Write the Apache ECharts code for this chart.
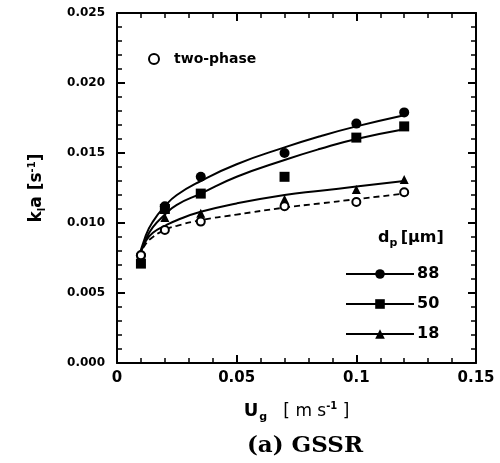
<!DOCTYPE html>
<html><head><meta charset="utf-8">
<script src="https://cdn.jsdelivr.net/npm/echarts@6/dist/echarts.min.js"></script>
<style>html,body{margin:0;padding:0;background:#fff}#c{width:500px;height:463px}</style>
</head><body><div id="c"></div>
<script>
// measured points
const U = [0.01, 0.02, 0.035, 0.07, 0.1, 0.12];
const k88 = [0.0077, 0.0112, 0.0133, 0.0150, 0.0171, 0.0179];
const k50 = [0.0071, 0.0110, 0.0121, 0.0133, 0.0161, 0.0169];
const k18 = [0.0073, 0.0104, 0.0107, 0.0117, 0.0124, 0.0131];
const kTwo = [0.0077, 0.0095, 0.0101, 0.0112, 0.0115, 0.0122];
// fitted curves
const Ufit = [0.009, 0.012, 0.015, 0.02, 0.025, 0.035, 0.05, 0.07, 0.085, 0.1, 0.12];
const fit88 = [0.0074, 0.0091, 0.0101, 0.0112, 0.0120, 0.0130, 0.0142, 0.0154, 0.0162, 0.0169, 0.0177];
const fit50 = [0.0074, 0.0088, 0.0097, 0.0106, 0.0113, 0.0121, 0.0133, 0.0145, 0.0153, 0.0160, 0.0167];
const fit18 = [0.0076, 0.0087, 0.0093, 0.0098, 0.0102, 0.0108, 0.0114, 0.0120, 0.0123, 0.0126, 0.0130];
const fitTwo = [0.0076, 0.0085, 0.0090, 0.0095, 0.0098, 0.0102, 0.0106, 0.0111, 0.0114, 0.0117, 0.0121];
const xTicks = ['0', '0.05', '0.1', '0.15'];

const pair = (xs, ys) => xs.map((x, i) => [x, ys[i]]);
const chart = echarts.init(document.getElementById('c'));
const F = 'DejaVu Sans';
const tickCommon = {
  axisLine: {show: true, onZero: false, lineStyle: {color: '#000', width: 2}},
  axisTick: {show: true, inside: true, length: 8, lineStyle: {color: '#000', width: 2}},
  minorTick: {show: true, splitNumber: 5, length: 5, lineStyle: {color: '#000', width: 1.5}},
  splitLine: {show: false}
};
const xBase = {type: 'value', min: 0, max: 0.15, interval: 0.05};
const yBase = {type: 'value', min: 0, max: 0.025, interval: 0.005};

chart.setOption({
  animation: false,
  backgroundColor: '#fff',
  grid: {left: 117, right: 24, top: 13, bottom: 100},
  title: {
    text: '(a) GSSR', left: 300, top: 430, textAlign: 'center',
    textStyle: {fontFamily: 'DejaVu Serif', fontWeight: 'bold', fontSize: 23, color: '#000'}
  },
  legend: [
    {
      data: ['two-phase'], left: 143, top: 47, itemWidth: 14, itemHeight: 10, itemGap: 10,
      textStyle: {fontFamily: F, fontWeight: 'bold', fontSize: 14, color: '#000', padding: [0, 0, 0, 8]},
      selectedMode: false
    },
    {
      data: ['88', '50', '18'], orient: 'vertical', left: 340, top: 261,
      itemWidth: 68, itemHeight: 12, itemGap: 14,
      textStyle: {fontFamily: F, fontWeight: 'bold', fontSize: 16, color: '#000', padding: [0, 0, 0, -2]},
      selectedMode: false
    }
  ],
  graphic: [{
    type: 'text', left: 378, top: 230,
    style: {
      text: '{d|d}{p|p} {b|[μm]}',
      rich: {
        d: {fontFamily: F, fontWeight: 'bold', fontSize: 16, fill: '#000'},
        p: {fontFamily: F, fontWeight: 'bold', fontSize: 11, fill: '#000', padding: [10, 0, 0, 0]},
        b: {fontFamily: F, fontWeight: 'bold', fontSize: 16, fill: '#000'}
      }
    }
  }],
  xAxis: [
    Object.assign({}, xBase, tickCommon, {
      position: 'bottom',
      name: '{u|U}{g|g}{t|   [ m s}{s|-1}{t| ]}',
      nameLocation: 'middle', nameGap: 37,
      nameTextStyle: {
        rich: {
          u: {fontFamily: F, fontWeight: 'bold', fontSize: 18, color: '#000'},
          g: {fontFamily: F, fontWeight: 'bold', fontSize: 11, color: '#000', padding: [12, 0, 0, 1]},
          t: {fontFamily: F, fontSize: 17, color: '#000'},
          s: {fontFamily: F, fontWeight: 'bold', fontSize: 10, color: '#000', padding: [0, 0, 10, 0]}
        }
      },
      axisLabel: {
        fontFamily: F, fontWeight: 'bold', fontSize: 15, color: '#000', margin: 8,
        formatter: v => xTicks[Math.round(v / 0.05)]
      }
    }),
    Object.assign({}, xBase, tickCommon, {position: 'top', axisLabel: {show: false}})
  ],
  yAxis: [
    Object.assign({}, yBase, tickCommon, {
      position: 'left',
      name: '{k|k}{l|l}{k|a [s}{s|-1}{k|]}',
      nameLocation: 'middle', nameGap: 70, nameRotate: 90,
      nameTextStyle: {
        rich: {
          k: {fontFamily: F, fontWeight: 'bold', fontSize: 17, color: '#000'},
          l: {fontFamily: F, fontWeight: 'bold', fontSize: 10, color: '#000', padding: [10, 0, 0, 0]},
          s: {fontFamily: F, fontWeight: 'bold', fontSize: 10, color: '#000', padding: [0, 0, 10, 0]}
        }
      },
      axisLabel: {
        fontFamily: F, fontWeight: 'bold', fontSize: 12, color: '#000', margin: 12,
        formatter: v => v.toFixed(3)
      }
    }),
    Object.assign({}, yBase, tickCommon, {position: 'right', axisLabel: {show: false}})
  ],
  series: [
    {name: '88', type: 'line', smooth: true, showSymbol: false, symbol: 'circle', data: pair(Ufit, fit88),
      lineStyle: {color: '#000', width: 2}, itemStyle: {color: '#000'}, z: 3},
    {name: '50', type: 'line', smooth: true, showSymbol: false, symbol: 'rect', data: pair(Ufit, fit50),
      lineStyle: {color: '#000', width: 2}, itemStyle: {color: '#000'}, z: 3},
    {name: '18', type: 'line', smooth: true, showSymbol: false, symbol: 'triangle', data: pair(Ufit, fit18),
      lineStyle: {color: '#000', width: 2}, itemStyle: {color: '#000'}, z: 3},
    {name: 'two-phase fit', type: 'line', smooth: true, showSymbol: false, symbol: 'none', data: pair(Ufit, fitTwo),
      lineStyle: {color: '#000', width: 1.8, type: [6, 4]}, z: 3},
    {name: '88 data', type: 'scatter', symbol: 'circle', symbolSize: 10, data: pair(U, k88),
      itemStyle: {color: '#000', opacity: 1}, z: 5},
    {name: '50 data', type: 'scatter', symbol: 'rect', symbolSize: 10, data: pair(U, k50),
      itemStyle: {color: '#000', opacity: 1}, z: 5},
    {name: '18 data', type: 'scatter', symbol: 'triangle', symbolSize: 9, data: pair(U, k18),
      itemStyle: {color: '#000', opacity: 1}, z: 5},
    {name: 'two-phase', type: 'scatter', symbol: 'circle', symbolSize: 8, data: pair(U, kTwo),
      itemStyle: {color: '#fff', borderColor: '#000', borderWidth: 2, opacity: 1}, z: 6}
  ]
});
</script></body></html>
